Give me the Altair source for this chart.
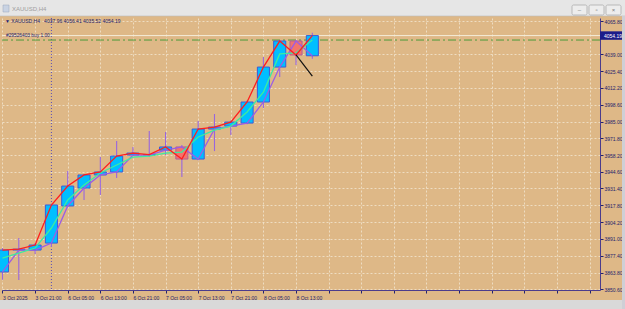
import altair as alt
import pandas as pd

# ---- data (XAUUSD H4) ----
bar_index = list(range(20))
opens = [3864.3, 3881.9, 3881.9, 3887.5, 3917.3, 3931.7, 3942.2, 3944.6, 3958.2, 3958.2,
         3962.2, 3964.7, 3955.0, 3979.1, 3981.5, 3983.9, 4000.8, 4028.9, 4049.8, 4037.96]
highs = [3883.5, 3891.6, 3887.5, 3919.0, 3945.4, 3943.0, 3956.6, 3969.5, 3964.7, 3977.5,
         3976.7, 3966.3, 3985.5, 3991.2, 3986.0, 4002.0, 4036.9, 4050.5, 4050.5, 4056.41]
lows = [3858.0, 3857.8, 3878.7, 3884.3, 3916.0, 3922.1, 3926.1, 3939.8, 3957.5, 3956.6,
        3958.2, 3940.6, 3954.0, 3961.4, 3974.3, 3983.0, 3996.0, 4020.9, 4030.5, 4035.52]
closes = [3881.9, 3882.6, 3885.9, 3918.1, 3933.3, 3942.2, 3944.6, 3957.4, 3959.8, 3958.6,
          3964.7, 3955.0, 3979.1, 3980.7, 3984.7, 4000.8, 4028.9, 4049.8, 4038.6, 4054.19]
red_line = [3881.9, 3882.6, 3885.9, 3918.1, 3933.3, 3942.2, 3944.6, 3957.4, 3959.8, 3958.6,
            3964.7, 3955.0, 3979.1, 3980.7, 3984.7, 4000.8, 4028.9, 4049.8, 4038.6, 4054.19]
green_line = [3875.5, 3879.5, 3883.5, 3899.6, 3922.1, 3934.1, 3943.8, 3950.2, 3956.6, 3957.4,
              3959.8, 3960.6, 3972.7, 3978.3, 3981.5, 3992.8, 4008.8, 4039.4, 4040.2, 4050.6]
purple_line = [3864.3, 3881.9, 3881.9, 3887.5, 3917.3, 3931.7, 3942.2, 3944.6, 3958.2, 3958.2,
               3962.2, 3964.7, 3955.0, 3979.1, 3981.5, 3983.9, 4000.8, 4028.9, 4049.8, 4037.96]

x_labels = ["3 Oct 2025", "3 Oct 21:00", "6 Oct 05:00", "6 Oct 13:00", "6 Oct 21:00",
            "7 Oct 05:00", "7 Oct 13:00", "7 Oct 21:00", "8 Oct 05:00", "8 Oct 13:00"]
y_ticks = [4065.80, 4039.00, 4025.40, 4012.20, 3998.60, 3985.00, 3971.80, 3958.20,
           3944.60, 3931.40, 3917.80, 3904.20, 3891.00, 3877.40, 3863.80, 3850.60]

bid_price = 4054.19
order_price = 4050.6
separator_bar = 3
trade_line_idx = [18, 19]
trade_line_price = [4038.6, 4021.7]

header_text = "▼ XAUUSD,H4\u00a0\u00a0 4037.96 4056.41 4035.52 4054.19"
order_text = "#29526403 buy 1.00"
window_title = "XAUUSD,H4"

# ---- frames ----
df = pd.DataFrame({"idx": bar_index, "open": opens, "high": highs, "low": lows,
                   "close": closes, "red": red_line, "green": green_line,
                   "purple": purple_line})
trade_df = pd.DataFrame({"idx": trade_line_idx, "price": trade_line_price})

NAVY = "#23236E"
FONT = "Liberation Sans"
xlabel_js = "[" + ",".join("'%s'" % s for s in x_labels) + "]"

x_scale = alt.Scale(domain=[-0.03, 36.64], nice=False, zero=False)
y_scale = alt.Scale(domain=[3849.8, 4068.3], nice=False, zero=False)

x_axis = alt.Axis(values=list(range(0, 37, 2)), labelExpr=xlabel_js + "[datum.value/2] || ''",
                  labelAlign="left", labelFontSize=5, labelColor=NAVY, labelFont=FONT,
                  labelPadding=2, labelOverlap=False, tickColor=NAVY, tickSize=3,
                  domainColor="#4B3C8C", grid=True, gridColor="#F3E6D2", gridDash=[2, 2],
                  gridWidth=0.8, title=None)
y_axis = alt.Axis(orient="right", values=y_ticks, format=".2f", labelFontSize=5,
                  labelColor=NAVY, labelFont=FONT, labelPadding=1, tickColor=NAVY,
                  tickSize=3, domainColor="#4B3C8C", grid=True, gridColor="#F3E6D2",
                  gridDash=[2, 2], gridWidth=0.8, labelOverlap=False, title=None)

X = alt.X("idx:Q", scale=x_scale, axis=x_axis)

base = alt.Chart(df)

wicks = base.mark_rule(color="#9966DD", strokeWidth=1.1).encode(
    x=X, y=alt.Y("low:Q", scale=y_scale, axis=y_axis), y2="high:Q")

bodies = base.transform_calculate(
    xl="datum.idx - 0.37", xr="datum.idx + 0.37"
).mark_rect(strokeWidth=1).encode(
    x=alt.X("xl:Q", scale=x_scale, axis=x_axis), x2="xr:Q",
    y=alt.Y("open:Q", scale=y_scale, axis=y_axis), y2="close:Q",
    fill=alt.condition("datum.close >= datum.open", alt.value("#00BFFF"), alt.value("#F2736C")),
    stroke=alt.condition("datum.close >= datum.open", alt.value("#3D5BD9"), alt.value("#B0609A")),
)

def line(col, color, w):
    return base.mark_line(color=color, strokeWidth=w).encode(
        x=X, y=alt.Y(col + ":Q", scale=y_scale, axis=y_axis))

purple = line("purple", "#9B5DE5", 1.3)
green = line("green", "#3DEBA0", 1.3)
red = line("red", "#FF1E1E", 1.3)

trade = alt.Chart(trade_df).mark_line(color="#111111", strokeWidth=1.2).encode(
    x=X, y=alt.Y("price:Q", scale=y_scale, axis=y_axis))

bid_rule = alt.Chart(df).mark_rule(color="#F4EBD8", strokeWidth=1).encode(
    y=alt.Y("b:Q", scale=y_scale, axis=y_axis),
).transform_calculate(b=str(bid_price)).transform_filter("datum.idx == 0")

order_rule = alt.Chart(df).mark_rule(color="#4E9A3A", strokeWidth=1, strokeDash=[8, 3, 2, 3]).encode(
    y=alt.Y("o:Q", scale=y_scale, axis=y_axis),
).transform_calculate(o=str(order_price)).transform_filter("datum.idx == 0")

sep_rule = alt.Chart(df).mark_rule(color="#5A4FB8", strokeWidth=1, strokeDash=[1, 2]).encode(
    x=alt.X("s:Q", scale=x_scale, axis=x_axis),
).transform_calculate(s=str(separator_bar)).transform_filter("datum.idx == 0")

one = alt.Chart(pd.DataFrame({"k": [0]}))

header = one.mark_text(text=header_text, align="left", baseline="middle", fontSize=5,
                       font=FONT, color=NAVY).encode(x=alt.value(3), y=alt.value(3))
order_lbl = one.mark_text(text=order_text, align="left", baseline="middle", fontSize=4.8,
                          font=FONT, color=NAVY).encode(x=alt.value(4), y=alt.value(18))

price_box = alt.Chart(df).mark_rect(color="#1C1C8A").encode(
    x=alt.value(598), x2=alt.value(621),
    y=alt.Y("t:Q", scale=y_scale, axis=y_axis), y2="u:Q",
).transform_calculate(t=str(bid_price + 3.4), u=str(bid_price - 3.4)).transform_filter("datum.idx == 0")
price_txt = alt.Chart(df).mark_text(text="4054.19", align="left", baseline="middle", fontSize=5,
                                     font=FONT, color="white").encode(
    x=alt.value(602), y=alt.Y("t:Q", scale=y_scale, axis=y_axis),
).transform_calculate(t=str(bid_price)).transform_filter("datum.idx == 0")

# window chrome
title_bar = one.mark_rect(color="#E6E6E6", stroke="#BDBDBD", strokeWidth=0.6).encode(
    x=alt.value(-3), x2=alt.value(624), y=alt.value(-19), y2=alt.value(-2))
title_txt = one.mark_text(text=window_title, align="left", baseline="middle", fontSize=6,
                          font=FONT, color="#A0A0A0").encode(x=alt.value(10), y=alt.value(-9))
icon = one.mark_rect(color="#C9D3E3", stroke="#9AA6BA", strokeWidth=0.5).encode(
    x=alt.value(1), x2=alt.value(7), y=alt.value(-13), y2=alt.value(-6))
btn_df = pd.DataFrame({"x0": [570, 587, 604], "x1": [585, 602, 619], "g": ["–", "▫", "×"]})
buttons = alt.Chart(btn_df).mark_rect(color="#EDEDED", stroke="#A5A5A5", strokeWidth=0.7,
                                       cornerRadius=1.5).encode(
    x=alt.X("x0:Q", scale=None), x2="x1:Q", y=alt.value(-13), y2=alt.value(-3))
btn_txt = alt.Chart(btn_df).transform_calculate(xm="(datum.x0 + datum.x1) / 2").mark_text(
    baseline="middle", fontSize=6, color="#7A7A7A").encode(
    x=alt.X("xm:Q", scale=None), y=alt.value(-8), text="g:N")
bottom_strip = one.mark_rect(color="#D9D9D9").encode(
    x=alt.value(-3), x2=alt.value(624), y=alt.value(282), y2=alt.value(292))
right_strip = one.mark_rect(color="#CFCFD6").encode(
    x=alt.value(620), x2=alt.value(624), y=alt.value(-2), y2=alt.value(292))

chart = alt.layer(
    sep_rule, order_rule, bid_rule, wicks, bodies, purple, green, red, trade,
    header, order_lbl, price_box, price_txt,
    title_bar, icon, title_txt, buttons, btn_txt, bottom_strip, right_strip,
).resolve_scale(x="shared", y="shared").properties(
    width=598, height=272,
    autosize=alt.AutoSizeParams(type="none"),
    padding={"left": 2, "top": 18, "right": 25, "bottom": 19},
    background="#DEB887",
).configure_view(stroke=None)

chart.save("out.html", embed_options={"renderer": "svg", "actions": False})
